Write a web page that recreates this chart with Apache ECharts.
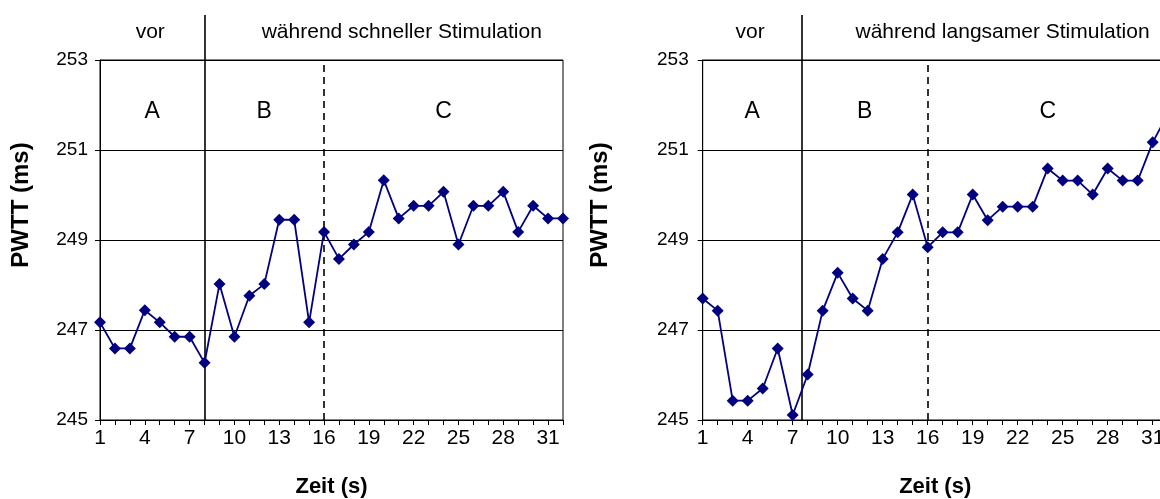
<!DOCTYPE html>
<html>
<head>
<meta charset="utf-8">
<script src="https://cdn.jsdelivr.net/npm/echarts@6/dist/echarts.min.js"></script>
<style>
html,body{margin:0;padding:0;background:#fff;}
#c{width:1160px;height:499px;}
</style>
</head>
<body>
<div id="c"></div>
<script>
// ---- data ----
const times = [1,2,3,4,5,6,7,8,9,10,11,12,13,14,15,16,17,18,19,20,21,22,23,24,25,26,27,28,29,30,31,32];
const fastValues = [247.17,246.59,246.59,247.44,247.17,246.85,246.85,246.27,248.02,246.85,247.76,248.02,249.45,249.45,247.17,249.18,
                    248.58,248.90,249.18,250.33,249.48,249.76,249.76,250.07,248.90,249.76,249.76,250.07,249.18,249.76,249.48,249.48];
const slowValues = [247.70,247.43,245.43,245.43,245.70,246.59,245.11,246.01,247.43,248.27,247.70,247.43,248.58,249.17,250.01,248.84,
                    249.17,249.17,250.01,249.44,249.74,249.74,249.74,250.59,250.32,250.32,250.01,250.59,250.32,250.32,251.17,251.80];
const xTickLabels = [1,4,7,10,13,16,19,22,25,28,31];
const yMin = 245, yMax = 253, yStep = 2;
const phaseLabels = ['A','B','C'];
const fastBounds = [1, 8, 16, 32];     // phase boundaries, fast stimulation chart
const slowBounds = [1, 7.58, 16, 32];  // phase boundaries, slow stimulation chart
const headerFast = ['vor','während schneller Stimulation'];
const headerSlow = ['vor','während langsamer Stimulation'];
const xName = 'Zeit (s)';
const yName = 'PWTT (ms)';

// ---- chart ----
const FONT = '"Liberation Sans", Arial, sans-serif';
const NAVY = '#000080';
const chart = echarts.init(document.getElementById('c'), null, {renderer:'canvas'});

const grids = [
  {left:100, top:60, width:463, height:360},
  {left:702.7, top:60, width:465, height:360},
  {left:100, top:15, width:463, height:45},
  {left:702.7, top:15, width:465, height:45}
];

function mainX(gi){
  return {
    type:'value', gridIndex:gi, min:1, max:32, interval:1,
    name:xName, nameLocation:'middle', nameGap:56,
    nameTextStyle:{fontFamily:FONT, fontSize:22, fontWeight:'bold', color:'#000'},
    axisLine:{show:true, onZero:false, lineStyle:{color:'#000', width:1}},
    axisTick:{show:true, inside:false, length:5, lineStyle:{color:'#000'}},
    axisLabel:{fontFamily:FONT, fontSize:21, color:'#000', margin:8,
      formatter:v => xTickLabels.indexOf(v) >= 0 ? String(v) : ''},
    splitLine:{show:false}
  };
}
function mainY(gi, gap, lblMargin){
  return {
    type:'value', gridIndex:gi, min:yMin, max:yMax, interval:yStep,
    name:yName, nameLocation:'middle', nameGap:gap,
    nameTextStyle:{fontFamily:FONT, fontSize:24, fontWeight:'bold', color:'#000', padding:[0,0,0,70]},
    axisLine:{show:true, lineStyle:{color:'#000', width:1}},
    axisTick:{show:true, inside:false, length:5, lineStyle:{color:'#000'}},
    axisLabel:{fontFamily:FONT, fontSize:19, color:'#000', margin:lblMargin},
    splitLine:{show:true, lineStyle:{color:'#000', width:1}}
  };
}
function hdrX(gi){ return {type:'value', gridIndex:gi, min:1, max:32, show:false}; }
function hdrY(gi){ return {type:'value', gridIndex:gi, min:0, max:1, show:false}; }

function lineSeries(gi, vals, bounds){
  return {
    type:'line', xAxisIndex:gi, yAxisIndex:gi,
    data: times.map((t,i) => [t, vals[i]]),
    symbol:'diamond', symbolSize:12,
    lineStyle:{color:NAVY, width:1.8},
    itemStyle:{color:NAVY},
    z:5,
    markLine:{
      silent:true, symbol:'none', label:{show:false},
      data:[
        {xAxis:bounds[1], lineStyle:{color:'#000', width:1.6, type:'solid'}},
        {xAxis:bounds[2], lineStyle:{color:'#000', width:1.6, type:[7,5]}}
      ]
    },
    markArea:{
      silent:true, itemStyle:{color:'rgba(0,0,0,0)'},
      label:{position:'insideTop', distance:40, fontFamily:FONT, fontSize:23, color:'#000'},
      data: phaseLabels.map((n,i) => [{xAxis:bounds[i], name:n}, {xAxis:bounds[i+1]}])
    }
  };
}
function headerSeries(gi, bounds, texts){
  return {
    type:'line', xAxisIndex:gi, yAxisIndex:gi, data:[],
    markLine:{
      silent:true, symbol:'none', label:{show:false},
      data:[{xAxis:bounds[1], lineStyle:{color:'#000', width:1.6, type:'solid'}}]
    },
    markArea:{
      silent:true, itemStyle:{color:'rgba(0,0,0,0)'},
      data:[
        [{xAxis:bounds[0], name:texts[0], label:{offset:[-2,-5]}}, {xAxis:bounds[1]}],
        [{xAxis:bounds[1], name:texts[1], label:{offset:[18,-5]}}, {xAxis:bounds[3]}]
      ],
      label:{position:'inside', fontFamily:FONT, fontSize:21, color:'#000'}
    }
  };
}

const option = {
  animation:false,
  backgroundColor:'#fff',
  grid: grids.map((g,i) => Object.assign({outerBoundsMode:'none', containLabel:false}, g,
        i < 2 ? {show:true, borderColor:'#000', borderWidth:1, backgroundColor:'transparent'} : {show:false})),
  xAxis:[mainX(0), mainX(1), hdrX(2), hdrX(3)],
  yAxis:[mainY(0, 67, 12), mainY(1, 90, 14), hdrY(2), hdrY(3)],
  series:[
    lineSeries(0, fastValues, fastBounds),
    lineSeries(1, slowValues, slowBounds),
    headerSeries(2, fastBounds, headerFast),
    headerSeries(3, slowBounds, headerSlow)
  ]
};
chart.setOption(option);
</script>
</body>
</html>
